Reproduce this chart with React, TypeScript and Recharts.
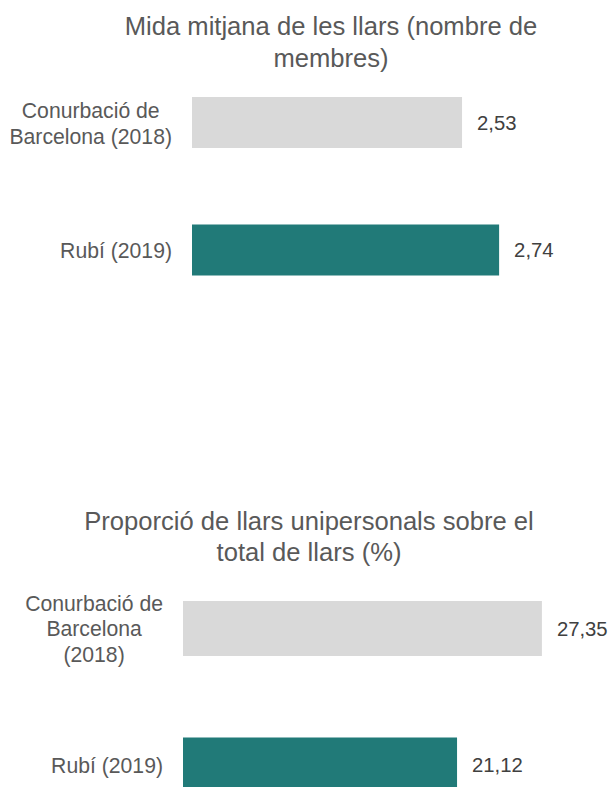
import { Bar, BarChart, LabelList, XAxis, YAxis } from "recharts";

const FONT = '"Liberation Sans", Arial, sans-serif';

// chart 1: mida mitjana
const sizeCategories = ["Conurbació de Barcelona (2018)", "Rubí (2019)"];
const sizeValues = [2.53, 2.74];
const sizeTitle = "Mida mitjana de les llars (nombre de membres)";

// chart 2: llars unipersonals
const singleCategories = ["Conurbació de Barcelona (2018)", "Rubí (2019)"];
const singleValues = [27.35, 21.12];
const singleTitle = "Proporció de llars unipersonals sobre el total de llars (%)";

const barColors = ["#d9d9d9", "#217a78"];

let ctx: CanvasRenderingContext2D | null = null;
function measure(text: string, size: number) {
  if (!ctx) ctx = document.createElement("canvas").getContext("2d");
  if (!ctx) return text.length * size * 0.5;
  ctx.font = `${size}px "Liberation Sans", Arial, sans-serif`;
  return ctx.measureText(text).width;
}

function wrap(text: string, maxWidth: number, size: number) {
  const words = text.split(" ");
  const lines: string[] = [];
  let cur = "";
  for (const w of words) {
    const next = cur ? cur + " " + w : w;
    if (cur && measure(next, size) > maxWidth) {
      lines.push(cur);
      cur = w;
    } else cur = next;
  }
  if (cur) lines.push(cur);
  return lines;
}

function CategoryTick(props: any) {
  const { x, y, payload, maxWidth, gap } = props;
  const size = 21.2;
  const lines = wrap(String(payload.value), maxWidth, size);
  const widest = Math.max(...lines.map((l) => measure(l, size)));
  const cx = x - gap - widest / 2;
  const lh = 25.5;
  const y0 = y - ((lines.length - 1) * lh) / 2;
  return (
    <text x={cx} y={y0} textAnchor="middle" fill="#595959" fontSize={size} fontFamily={FONT} dominantBaseline="central">
      {lines.map((l, i) => (
        <tspan key={i} x={cx} y={y0 + i * lh} dominantBaseline="central">
          {l}
        </tspan>
      ))}
    </text>
  );
}

const fmt = (v: any) => Number(v).toFixed(2).replace(".", ",");

function HBar({
  categories,
  values,
  width,
  height,
  margin,
  axisWidth,
  domain,
  barSize,
  maxWidth,
  gap,
}: {
  categories: string[];
  values: number[];
  width: number;
  height: number;
  margin: { top: number; right: number; bottom: number; left: number };
  axisWidth: number;
  domain: [number, number];
  barSize: number;
  maxWidth: number;
  gap: number;
}) {
  const data = categories.map((name, i) => ({ name, value: values[i], fill: barColors[i] }));
  return (
    <BarChart width={width} height={height} data={data} layout="vertical" margin={margin}>
      <XAxis type="number" domain={domain} hide allowDataOverflow />
      <YAxis
        type="category"
        dataKey="name"
        width={axisWidth}
        axisLine={false}
        tickLine={false}
        tick={<CategoryTick maxWidth={maxWidth} gap={gap} />}
      />
      <Bar dataKey="value" barSize={barSize} isAnimationActive={false}>
        <LabelList
          dataKey="value"
          position="right"
          offset={15}
          formatter={fmt}
          fill="#404040"
          fontSize={20.3}
          fontFamily={FONT}
        />
      </Bar>
    </BarChart>
  );
}

export default function App() {
  const titleStyle = {
    position: "absolute" as const,
    textAlign: "center" as const,
    color: "#595959",
    fontFamily: FONT,
    fontSize: 25.6,
    lineHeight: "32px",
  };
  return (
    <div style={{ position: "absolute", left: 0, top: 0, width: 609, height: 787, overflow: "hidden", background: "#fff" }}>
      <div style={{ ...titleStyle, left: 101, top: 10, width: 460 }}>{sizeTitle}</div>
      <div style={{ position: "absolute", left: 0, top: 0 }}>
        <HBar
          categories={sizeCategories}
          values={sizeValues}
          width={609}
          height={340}
          margin={{ top: 59, right: 64, bottom: 26, left: 0 }}
          axisWidth={192}
          domain={[1, 3]}
          barSize={51}
          maxWidth={170}
          gap={12}
        />
      </div>
      <div style={{ ...titleStyle, left: 59, top: 506, width: 500, lineHeight: "31px" }}>{singleTitle}</div>
      <div style={{ position: "absolute", left: 0, top: 480 }}>
        <HBar
          categories={singleCategories}
          values={singleValues}
          width={609}
          height={353}
          margin={{ top: 80, right: 31, bottom: 0, left: 0 }}
          axisWidth={183}
          domain={[1, 30]}
          barSize={55}
          maxWidth={145}
          gap={12}
        />
      </div>
    </div>
  );
}
